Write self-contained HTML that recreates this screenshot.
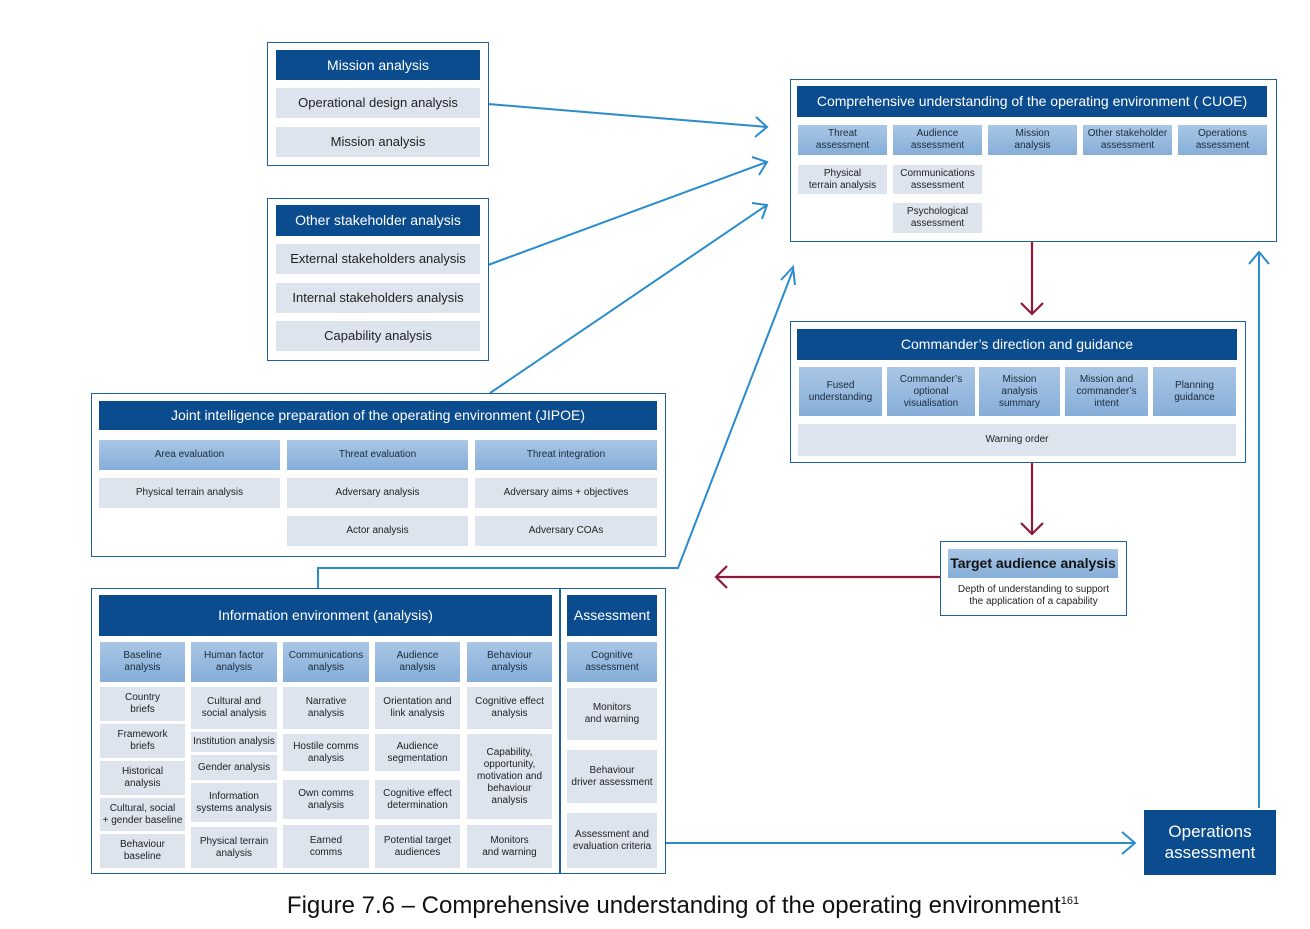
<!DOCTYPE html>
<html><head><meta charset="utf-8"><style>
body{margin:0;width:1310px;height:929px;background:#fff;position:relative;overflow:hidden;font-family:"Liberation Sans",Arial,sans-serif}
.o{position:absolute;border:1.5px solid #1f5f9e;box-sizing:border-box;background:#fff}
.b{position:absolute;display:flex;align-items:center;justify-content:center;text-align:center;box-sizing:border-box;line-height:1.2}
.d{background:#0b4c8e;color:#fff;font-size:14px}
.h{background:linear-gradient(#a9c6e6,#86aed8);color:#1a2a3a;font-size:10px}
.l{background:#dde4ee;color:#222;font-size:10px}
.m{font-size:13px}
</style></head><body>
<svg style="position:absolute;left:0;top:0" width="1310" height="929">
<g fill="none" stroke="#2a8ccc" stroke-width="2">
<path d="M488 104 L767 127"/><path d="M756 117 L767 127 L755 137"/>
<path d="M488 265 L767 162"/><path d="M752 157 L767 162 L759 175"/>
<path d="M490 393 L767 205"/><path d="M752 203 L767 205 L762 219"/>
<path d="M318 588 L318 568 L678 568 L793 270"/><path d="M781 280 L793 267 L795 285"/>
<path d="M665 843 L1135 843"/><path d="M1122 832 L1135 843 L1122 854"/>
<path d="M1259 808 L1259 252"/><path d="M1249 264 L1259 252 L1269 264"/>
</g>
<g fill="none" stroke="#8b1a3a" stroke-width="2.2">
<path d="M1032 241 L1032 314"/><path d="M1021 303 L1032 314 L1043 303"/>
<path d="M1032 462 L1032 534"/><path d="M1021 523 L1032 534 L1043 523"/>
<path d="M940 577 L716 577"/><path d="M727 566 L716 577 L727 588"/>
</g>
</svg>

<div class="o" style="left:267px;top:42px;width:222px;height:124px"></div>
<div class="b d" style="left:276px;top:50px;width:204px;height:30px">Mission analysis</div>
<div class="b l m" style="left:276px;top:88px;width:204px;height:30px">Operational design analysis</div>
<div class="b l m" style="left:276px;top:127px;width:204px;height:30px">Mission analysis</div>

<div class="o" style="left:267px;top:198px;width:222px;height:163px"></div>
<div class="b d" style="left:276px;top:205px;width:204px;height:31px">Other stakeholder analysis</div>
<div class="b l m" style="left:276px;top:244px;width:204px;height:30px">External stakeholders analysis</div>
<div class="b l m" style="left:276px;top:283px;width:204px;height:30px">Internal stakeholders analysis</div>
<div class="b l m" style="left:276px;top:321px;width:204px;height:30px">Capability analysis</div>

<div class="o" style="left:91px;top:393px;width:575px;height:164px"></div>
<div class="b d" style="left:99px;top:401px;width:558px;height:29px">Joint intelligence preparation of the operating environment (JIPOE)</div>
<div class="b h" style="left:99px;top:440px;width:181px;height:30px">Area evaluation</div>
<div class="b h" style="left:287px;top:440px;width:181px;height:30px">Threat evaluation</div>
<div class="b h" style="left:475px;top:440px;width:182px;height:30px">Threat integration</div>
<div class="b l" style="left:99px;top:478px;width:181px;height:30px">Physical terrain analysis</div>
<div class="b l" style="left:287px;top:478px;width:181px;height:30px">Adversary analysis</div>
<div class="b l" style="left:475px;top:478px;width:182px;height:30px">Adversary aims + objectives</div>
<div class="b l" style="left:287px;top:516px;width:181px;height:30px">Actor analysis</div>
<div class="b l" style="left:475px;top:516px;width:182px;height:30px">Adversary COAs</div>

<div class="o" style="left:91px;top:588px;width:575px;height:286px"></div>
<div style="position:absolute;left:559px;top:588px;width:1.5px;height:286px;background:#1f5f9e"></div>
<div class="b d" style="left:99px;top:595px;width:453px;height:41px">Information environment (analysis)</div>
<div class="b d" style="left:567px;top:595px;width:90px;height:41px">Assessment</div>
<div class="b h" style="left:100px;top:642px;width:85px;height:40px">Baseline<br>analysis</div>
<div class="b h" style="left:191px;top:642px;width:86px;height:40px">Human factor<br>analysis</div>
<div class="b h" style="left:283px;top:642px;width:86px;height:40px">Communications<br>analysis</div>
<div class="b h" style="left:375px;top:642px;width:85px;height:40px">Audience<br>analysis</div>
<div class="b h" style="left:467px;top:642px;width:85px;height:40px">Behaviour<br>analysis</div>
<div class="b h" style="left:567px;top:642px;width:90px;height:40px">Cognitive<br>assessment</div>

<div class="b l" style="left:100px;top:687px;width:85px;height:34px">Country<br>briefs</div>
<div class="b l" style="left:100px;top:724px;width:85px;height:34px">Framework<br>briefs</div>
<div class="b l" style="left:100px;top:761px;width:85px;height:34px">Historical<br>analysis</div>
<div class="b l" style="left:100px;top:798px;width:85px;height:33px">Cultural, social<br>+ gender baseline</div>
<div class="b l" style="left:100px;top:834px;width:85px;height:34px">Behaviour<br>baseline</div>

<div class="b l" style="left:191px;top:687px;width:86px;height:42px">Cultural and<br>social analysis</div>
<div class="b l" style="left:191px;top:732px;width:86px;height:20px">Institution analysis</div>
<div class="b l" style="left:191px;top:755px;width:86px;height:25px">Gender analysis</div>
<div class="b l" style="left:191px;top:783px;width:86px;height:39px">Information<br>systems analysis</div>
<div class="b l" style="left:191px;top:827px;width:86px;height:41px">Physical terrain<br>analysis</div>

<div class="b l" style="left:283px;top:687px;width:86px;height:42px">Narrative<br>analysis</div>
<div class="b l" style="left:283px;top:734px;width:86px;height:37px">Hostile comms<br>analysis</div>
<div class="b l" style="left:283px;top:780px;width:86px;height:39px">Own comms<br>analysis</div>
<div class="b l" style="left:283px;top:825px;width:86px;height:43px">Earned<br>comms</div>

<div class="b l" style="left:375px;top:687px;width:85px;height:42px">Orientation and<br>link analysis</div>
<div class="b l" style="left:375px;top:734px;width:85px;height:37px">Audience<br>segmentation</div>
<div class="b l" style="left:375px;top:780px;width:85px;height:39px">Cognitive effect<br>determination</div>
<div class="b l" style="left:375px;top:825px;width:85px;height:43px">Potential target<br>audiences</div>

<div class="b l" style="left:467px;top:687px;width:85px;height:42px">Cognitive effect<br>analysis</div>
<div class="b l" style="left:467px;top:734px;width:85px;height:85px">Capability,<br>opportunity,<br>motivation and<br>behaviour<br>analysis</div>
<div class="b l" style="left:467px;top:825px;width:85px;height:43px">Monitors<br>and warning</div>

<div class="b l" style="left:567px;top:688px;width:90px;height:52px">Monitors<br>and warning</div>
<div class="b l" style="left:567px;top:750px;width:90px;height:53px">Behaviour<br>driver assessment</div>
<div class="b l" style="left:567px;top:813px;width:90px;height:55px">Assessment and<br>evaluation criteria</div>

<div class="o" style="left:790px;top:79px;width:487px;height:163px"></div>
<div class="b d" style="left:797px;top:86px;width:470px;height:31px">Comprehensive understanding of the operating environment ( CUOE)</div>
<div class="b h" style="left:798px;top:125px;width:89px;height:30px">Threat<br>assessment</div>
<div class="b h" style="left:893px;top:125px;width:89px;height:30px">Audience<br>assessment</div>
<div class="b h" style="left:988px;top:125px;width:89px;height:30px">Mission<br>analysis</div>
<div class="b h" style="left:1083px;top:125px;width:89px;height:30px">Other stakeholder<br>assessment</div>
<div class="b h" style="left:1178px;top:125px;width:89px;height:30px">Operations<br>assessment</div>
<div class="b l" style="left:798px;top:165px;width:89px;height:29px">Physical<br>terrain analysis</div>
<div class="b l" style="left:893px;top:165px;width:89px;height:29px">Communications<br>assessment</div>
<div class="b l" style="left:893px;top:203px;width:89px;height:30px">Psychological<br>assessment</div>

<div class="o" style="left:790px;top:321px;width:456px;height:142px"></div>
<div class="b d" style="left:797px;top:329px;width:440px;height:31px">Commander’s direction and guidance</div>
<div class="b h" style="left:799px;top:367px;width:83px;height:49px">Fused<br>understanding</div>
<div class="b h" style="left:887px;top:367px;width:88px;height:49px">Commander’s<br>optional<br>visualisation</div>
<div class="b h" style="left:979px;top:367px;width:81px;height:49px">Mission<br>analysis<br>summary</div>
<div class="b h" style="left:1065px;top:367px;width:83px;height:49px">Mission and<br>commander’s<br>intent</div>
<div class="b h" style="left:1153px;top:367px;width:83px;height:49px">Planning<br>guidance</div>
<div class="b l" style="left:798px;top:424px;width:438px;height:32px">Warning order</div>

<div class="o" style="left:940px;top:541px;width:187px;height:75px"></div>
<div class="b h" style="left:948px;top:549px;width:170px;height:29px;font-size:14px;font-weight:bold;color:#111">Target audience analysis</div>
<div class="b" style="left:942px;top:582px;width:183px;height:28px;font-size:10px;color:#222">Depth of understanding to support<br>the application of a capability</div>

<div class="b d" style="left:1144px;top:810px;width:132px;height:65px;font-size:17px">Operations<br>assessment</div>

<div style="position:absolute;left:0;top:892px;width:1366px;text-align:center;font-size:24px;color:#111">Figure 7.6 – Comprehensive understanding of the operating environment<sup style="font-size:11px">161</sup></div>
</body></html>
